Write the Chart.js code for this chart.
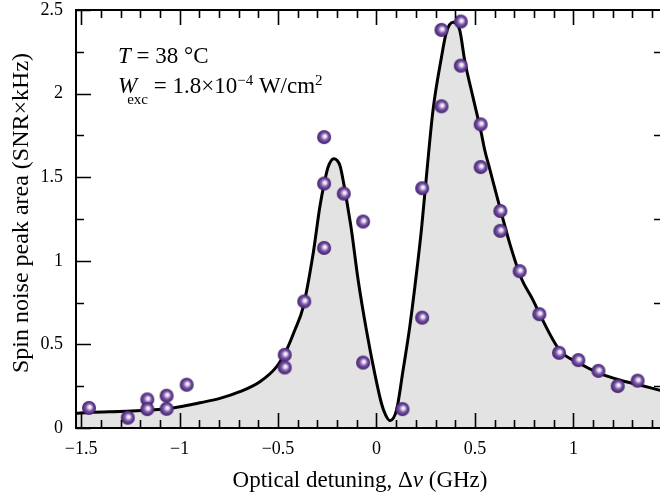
<!DOCTYPE html>
<html>
<head>
<meta charset="utf-8">
<script src="https://cdn.jsdelivr.net/npm/chart.js@4/dist/chart.umd.min.js"></script>
<style>
  html, body { margin: 0; padding: 0; background: #fff; overflow: hidden; }
  #wrap { width: 663px; height: 498px; position: relative; }
</style>
</head>
<body>
<div id="wrap"><canvas id="myChart"></canvas></div>
<script>
// measured points (GHz, SNR x kHz)
const ptX = [-1.46, -1.263, -1.164, -1.164, -1.066, -1.066, -0.964, -0.466, -0.466, -0.367,
  -0.266, -0.266, -0.266, -0.166, -0.068, -0.068, 0.132, 0.232, 0.232, 0.330,
  0.330, 0.428, 0.428, 0.529, 0.529, 0.629, 0.629, 0.727, 0.827, 0.927,
  1.025, 1.127, 1.225, 1.326]
const ptY = [0.12, 0.062, 0.171, 0.113, 0.193, 0.115, 0.259, 0.438, 0.362, 0.757,
  1.740, 1.462, 1.077, 1.402, 1.235, 0.391, 0.113, 1.434, 0.660, 2.381,
  1.924, 2.431, 2.167, 1.816, 1.561, 1.298, 1.179, 0.938, 0.681, 0.450,
  0.406, 0.342, 0.251, 0.283]

// fitted curve
const fitX = [-1.526, -1.46, -1.27, -1.17, -1.07, -0.998, -0.897, -0.795, -0.694, -0.592,
  -0.508, -0.457, -0.415, -0.373, -0.322, -0.288, -0.266, -0.246, -0.217, -0.186,
  -0.166, -0.135, -0.127, -0.093, -0.051, -0.009, 0.025, 0.046, 0.068, 0.102,
  0.135, 0.169, 0.203, 0.228, 0.248, 0.287, 0.330, 0.355, 0.389, 0.423,
  0.448, 0.490, 0.533, 0.550, 0.575, 0.617, 0.677, 0.736, 0.795, 0.829,
  0.930, 1.032, 1.133, 1.235, 1.337, 1.45]
const fitY = [0.088, 0.093, 0.100, 0.106, 0.115, 0.127, 0.151, 0.177, 0.217, 0.277,
  0.366, 0.466, 0.585, 0.72, 1.04, 1.32, 1.46, 1.56, 1.611, 1.571,
  1.46, 1.243, 1.183, 0.884, 0.585, 0.327, 0.148, 0.078, 0.044, 0.108,
  0.346, 0.605, 0.924, 1.183, 1.434, 1.90, 2.218, 2.367, 2.427, 2.378,
  2.198, 1.979, 1.76, 1.661, 1.55, 1.362, 1.103, 0.894, 0.765, 0.681,
  0.466, 0.386, 0.327, 0.287, 0.257, 0.222]

const xTicks = [-1.5, -1, -0.5, 0, 0.5, 1]
const yTicks = [0, 0.5, 1, 1.5, 2, 2.5]
const xMinor = [-1.5, -1.4, -1.3, -1.2, -1.1, -1, -0.9, -0.8, -0.7, -0.6, -0.5, -0.4, -0.3, -0.2, -0.1,
  0, 0.1, 0.2, 0.3, 0.4, 0.5, 0.6, 0.7, 0.8, 0.9, 1, 1.1, 1.2, 1.3, 1.4]
const yMinor = [0.25, 0.75, 1.25, 1.75, 2.25]

const SERIF = '"Liberation Serif", "Times New Roman", serif'

// shaded purple ball
const ball = document.createElement('canvas')
ball.width = 16
ball.height = 16
{
  const c = ball.getContext('2d')
  const g = c.createRadialGradient(9, 7, 0.3, 8, 8, 7.2)
  g.addColorStop(0, '#ffffff')
  g.addColorStop(0.22, '#d8cdea')
  g.addColorStop(0.5, '#7a58a8')
  g.addColorStop(0.8, '#55307f')
  g.addColorStop(1, '#3b1b62')
  c.fillStyle = g
  c.beginPath()
  c.arc(8, 8, 7, 0, Math.PI * 2)
  c.fill()
}

const fmt = v => String(v).replace('-', '\u2212')

// draws runs of [text, font, dy, dx] one after another
function drawRuns(ctx, x, y, runs) {
  runs.forEach(r => {
    ctx.font = r[1]
    x += r[3] || 0
    ctx.fillText(r[0], x, y + (r[2] || 0))
    x += ctx.measureText(r[0]).width
  })
}

function runsWidth(ctx, runs) {
  let w = 0
  runs.forEach(r => { ctx.font = r[1]; w += ctx.measureText(r[0]).width + (r[3] || 0) })
  return w
}

// frame with inward ticks + the texts
const framePlugin = {
  id: 'frame',
  afterDatasetsDraw(chart) {
    const ctx = chart.ctx
    const a = chart.chartArea
    const xs = chart.scales.x, ys = chart.scales.y
    ctx.save()
    ctx.strokeStyle = '#000'
    ctx.lineWidth = 1.6
    ctx.beginPath()
    xMinor.forEach(v => {
      const px = Math.round(xs.getPixelForValue(v)) + 0.5
      const len = xTicks.includes(v) ? 15 : 8
      ctx.moveTo(px, a.bottom); ctx.lineTo(px, a.bottom - len)
      ctx.moveTo(px, a.top); ctx.lineTo(px, a.top + len)
    })
    yTicks.forEach(v => {
      const py = Math.round(ys.getPixelForValue(v)) + 0.5
      ctx.moveTo(a.left, py); ctx.lineTo(a.left + 15, py)
    })
    yMinor.forEach(v => {
      const py = Math.round(ys.getPixelForValue(v)) + 0.5
      ctx.moveTo(a.left, py); ctx.lineTo(a.left + 8, py)
      ctx.moveTo(a.right, py); ctx.lineTo(a.right - 8, py)
    })
    ctx.stroke()
    ctx.lineWidth = 2
    ctx.strokeRect(a.left, a.top, a.right - a.left, a.bottom - a.top)

    ctx.fillStyle = '#000'
    ctx.textBaseline = 'alphabetic'
    ctx.textAlign = 'left'
    const big = '23px ' + SERIF, ital = 'italic 23px ' + SERIF, small = '15px ' + SERIF
    drawRuns(ctx, 118, 63, [['T', ital], [' = 38 \u00B0C', big]])
    drawRuns(ctx, 118, 93, [['W', ital], ['exc', small, 11, -10], [' = 1.8\u00D710', big],
      ['\u22124', small, -8], [' W/cm', big], ['2', small, -8]])

    // x axis title with italic nu
    const xt = [['Optical detuning, \u0394', big], ['\u03BD', ital], [' (GHz)', big]]
    drawRuns(ctx, 360 - runsWidth(ctx, xt) / 2, 487, xt)

    // y axis title
    const yt = [['Spin noise peak area (SNR\u00D7kHz)', '24px ' + SERIF]]
    ctx.translate(28, 213)
    ctx.rotate(-Math.PI / 2)
    drawRuns(ctx, -runsWidth(ctx, yt) / 2, 0, yt)
    ctx.restore()
  }
}

const config = {
  type: 'scatter',
  data: {
    datasets: [{
      label: 'data',
      data: ptX.map((x, i) => ({ x: x, y: ptY[i] })),
      pointStyle: ball,
      pointRadius: 7,
      pointHoverRadius: 7,
      showLine: false
    }, {
      label: 'fit',
      type: 'line',
      data: fitX.map((x, i) => ({ x: x, y: fitY[i] })),
      borderColor: '#000',
      borderWidth: 3,
      backgroundColor: '#e3e3e3',
      fill: 'origin',
      pointRadius: 0,
      cubicInterpolationMode: 'monotone'
    }]
  },
  plugins: [framePlugin],
  options: {
    responsive: true,
    maintainAspectRatio: false,
    animation: false,
    events: [],
    layout: { autoPadding: false, padding: { left: 0, top: 10, right: 1, bottom: 0 } },
    plugins: { legend: { display: false }, tooltip: { enabled: false } },
    scales: {
      x: {
        type: 'linear',
        min: -1.526,
        max: 1.45,
        grid: { display: false, drawTicks: false },
        border: { display: false },
        afterBuildTicks: s => { s.ticks = xTicks.map(v => ({ value: v })) },
        afterFit: s => { s.height = 70; s.paddingLeft = 0; s.paddingRight = 0 },
        ticks: {
          padding: 10,
          maxRotation: 0,
          color: '#000',
          font: { family: SERIF, size: 18 },
          callback: v => fmt(v)
        }
      },
      y: {
        min: 0,
        max: 2.5,
        grid: { display: false, drawTicks: false },
        border: { display: false },
        afterBuildTicks: s => { s.ticks = yTicks.map(v => ({ value: v })) },
        afterFit: s => { s.width = 76; s.paddingTop = 0; s.paddingBottom = 0 },
        ticks: {
          padding: 13,
          color: '#000',
          font: { family: SERIF, size: 18 },
          callback: v => fmt(v)
        }
      }
    }
  }
}

const myChart = new Chart(document.getElementById('myChart'), config)
</script>
</body>
</html>
